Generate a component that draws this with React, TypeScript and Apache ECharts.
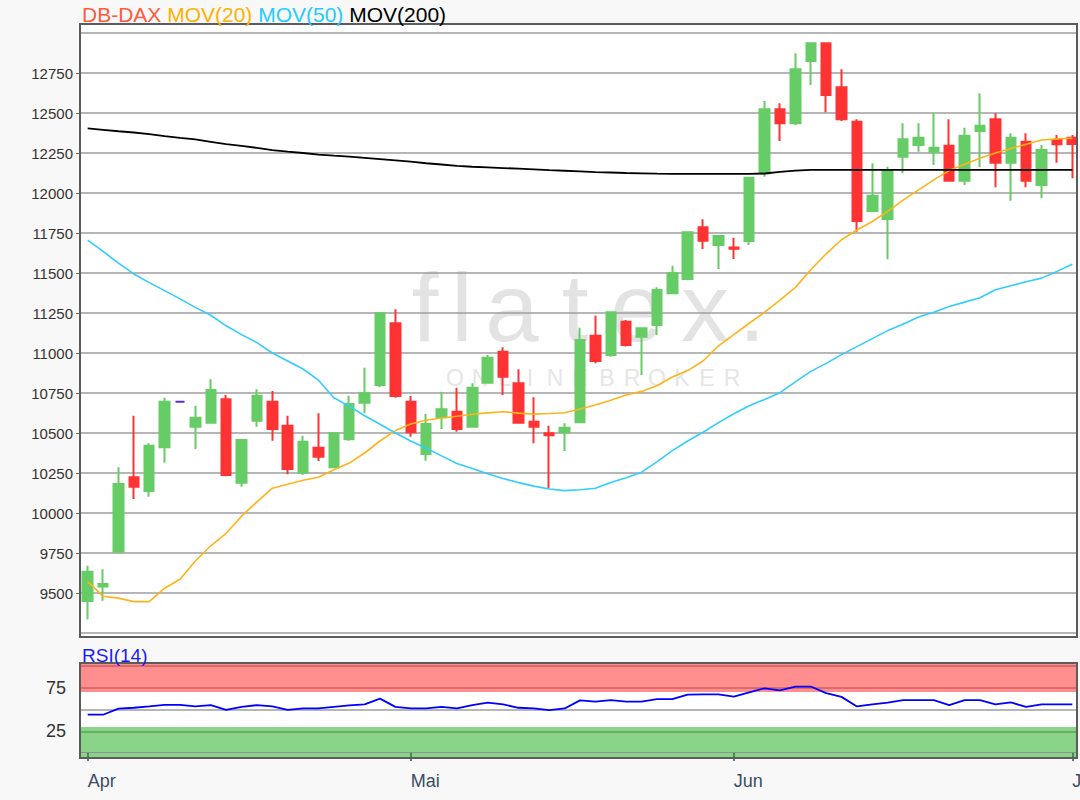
import React, { useEffect, useRef } from 'react';
import * as echarts from 'echarts';

const FONT = '"Liberation Sans", Arial, Helvetica, sans-serif';

// trading days shown (DB-DAX indication), Apr 2 – Jul 1 2020
const aprDays = [2, 3, 6, 7, 8, 9, 10, 13, 14, 15, 16, 17, 20, 21, 22, 23, 24, 27, 28, 29, 30];
const mayDays = [1, 4, 5, 6, 7, 8, 11, 12, 13, 14, 15, 18, 19, 20, 21, 22, 25, 26, 27, 28, 29];
const junDays = [1, 2, 3, 4, 5, 8, 9, 10, 11, 12, 15, 16, 17, 18, 19, 22, 23, 24, 25, 26, 29, 30];
const julDays = [1];
const monthNames: Record<string, string> = { '04': 'Apr', '05': 'Mai', '06': 'Jun', '07': 'Jul' };

const opens = [9450, 9540, 9758, 10223, 10138, 10411, 10696, 10539, 10564, 10711,
  10189, 10577, 10696, 10546, 10252, 10408, 10286, 10461, 10689, 10800,
  11186, 10696, 10369, 10598, 10633, 10539, 10814, 11008, 10811, 10571,
  10498, 10504, 10567, 11108, 10988, 11196, 11102, 11175, 11373, 11463,
  11786, 11675, 11660, 11700, 12123, 12523, 12436, 12825, 12936, 12661,
  12446, 11888, 11838, 12227, 12300, 12258, 12296, 12077, 12388, 12461,
  12189, 12321, 12050, 12331, 12346];
const closes = [9633, 9556, 10181, 10164, 10421, 10696, 10696, 10596, 10769, 10238,
  10456, 10733, 10525, 10275, 10446, 10352, 10498, 10681, 10748, 11248,
  10731, 10504, 10556, 10648, 10525, 10783, 10971, 10852, 10564, 10539,
  10486, 10533, 11081, 10950, 11254, 11050, 11154, 11394, 11498, 11754,
  11702, 11731, 11652, 12096, 12523, 12436, 12773, 12936, 12612, 12461,
  11825, 11983, 12138, 12336, 12346, 12283, 12077, 12358, 12421, 12189,
  12346, 12077, 12269, 12304, 12306];
const lows = [9336, 9452, 9758, 10088, 10102, 10314, 10696, 10400, 10564, 10230,
  10164, 10539, 10452, 10242, 10237, 10325, 10280, 10452, 10623, 10786,
  10721, 10477, 10327, 10525, 10508, 10539, 10814, 10737, 10560, 10436,
  10154, 10388, 10561, 10936, 10977, 11040, 10863, 11113, 11373, 11455,
  11650, 11525, 11587, 11675, 12102, 12325, 12425, 12675, 12504, 12450,
  11758, 11883, 11586, 12123, 12258, 12175, 12072, 12050, 12161, 12036,
  11952, 12036, 11967, 12189, 12092];
const highs = [9671, 9648, 10286, 10608, 10436, 10721, 10696, 10671, 10836, 10737,
  10460, 10773, 10762, 10608, 10483, 10623, 10502, 10733, 10908, 11252,
  11273, 10731, 10619, 10758, 10783, 10811, 10988, 11036, 10898, 10723,
  10546, 10561, 11158, 11233, 11258, 11206, 11160, 11411, 11546, 11760,
  11836, 11735, 11721, 12100, 12575, 12561, 12873, 12940, 12940, 12773,
  12461, 12186, 12164, 12436, 12436, 12502, 12461, 12408, 12623, 12498,
  12373, 12373, 12300, 12363, 12363];

const ma20 = [9571, 9480, 9468, 9446, 9446, 9530, 9586, 9700, 9795, 9873,
  9980, 10070, 10155, 10180, 10205, 10223, 10270, 10312, 10375, 10450,
  10515, 10556, 10580, 10594, 10605, 10617, 10626, 10633, 10624, 10618,
  10622, 10627, 10650, 10675, 10705, 10737, 10760, 10795, 10850, 10890,
  10950, 11045, 11115, 11186, 11255, 11331, 11410, 11520, 11620, 11708,
  11769, 11822, 11885, 11955, 12020, 12082, 12140, 12180, 12217, 12250,
  12278, 12305, 12331, 12338, 12342];
const ma50 = [11706, 11635, 11562, 11494, 11440, 11390, 11338, 11285, 11236, 11170,
  11115, 11065, 11000, 10950, 10900, 10830, 10720, 10668, 10608, 10555,
  10500, 10450, 10405, 10357, 10309, 10278, 10245, 10215, 10190, 10168,
  10150, 10140, 10145, 10155, 10190, 10220, 10255, 10320, 10390, 10450,
  10505, 10565, 10620, 10670, 10710, 10752, 10820, 10885, 10935, 10990,
  11040, 11090, 11140, 11180, 11225, 11255, 11290, 11318, 11345, 11395,
  11420, 11445, 11468, 11510, 11555];
const ma200 = [12404, 12395, 12386, 12378, 12368, 12356, 12345, 12335, 12320, 12305,
  12295, 12282, 12268, 12258, 12250, 12240, 12233, 12227, 12220, 12212,
  12204, 12196, 12186, 12178, 12170, 12164, 12160, 12156, 12152, 12148,
  12143, 12139, 12135, 12131, 12128, 12125, 12123, 12121, 12120, 12119,
  12119, 12119, 12119, 12120, 12122, 12132, 12140, 12144, 12144, 12144,
  12144, 12144, 12144, 12144, 12144, 12144, 12144, 12144, 12144, 12144,
  12144, 12144, 12144, 12144, 12144];
const rsi = [44, 44, 51, 52, 53.5, 55.4, 55.4, 53.5, 55, 49.5,
  53, 55, 53.5, 49.5, 51.2, 51.2, 53, 54.8, 55.8, 62.5,
  53, 51.2, 51.2, 53, 51.2, 55, 58, 55.8, 52, 51.2,
  49.3, 51.2, 60.5, 59, 60.8, 59, 59, 62, 62, 67,
  67.4, 67.4, 64.7, 69.8, 74.4, 72.1, 76.4, 76.4, 68.8, 64.5,
  53.5, 55.8, 58, 60.8, 60.8, 60.8, 55, 60.8, 60.8, 55.8,
  58.1, 53, 55.8, 55.8, 55.8];

const rsiOverbought = [70, 100];
const rsiOversold = [0, 30];
const dojiDate = '2020-04-10';

const pad = (d: number) => (d < 10 ? '0' + d : String(d));
const dates = [
  ...aprDays.map((d) => `2020-04-${pad(d)}`),
  ...mayDays.map((d) => `2020-05-${pad(d)}`),
  ...junDays.map((d) => `2020-06-${pad(d)}`),
  ...julDays.map((d) => `2020-07-${pad(d)}`),
];
const monthStart = new Set<number>();
dates.forEach((d, i) => {
  if (i === 0 || dates[i - 1].slice(5, 7) !== d.slice(5, 7)) monthStart.add(i);
});

const GREEN = '#66cc66';
const RED = '#ff3333';
const PURPLE = '#5a2fd0';
const BG = '#f8f8f8';
const FRAME = '#5c5c5c';
const GRIDLINE = '#9e9e9e';

export default function App() {
  const ref = useRef<HTMLDivElement>(null);
  useEffect(() => {
    if (!ref.current) return;
    const chart = echarts.init(ref.current, undefined, { renderer: 'svg' });

    const candleData = dates.map((d, i) => {
      const v = [opens[i], closes[i], lows[i], highs[i]];
      if (d === dojiDate) {
        return {
          value: v,
          itemStyle: { color: PURPLE, color0: PURPLE, borderColor: PURPLE, borderColor0: PURPLE, borderColorDoji: PURPLE },
        };
      }
      return v;
    });

    const wmLetters = ['f', 'l', 'a', 't', 'e', 'x', '.'];
    const wmX = [425, 462, 512, 575, 637, 705, 752];
    const obLetters = ['O', 'N', 'L', 'I', 'N', 'E', 'B', 'R', 'O', 'K', 'E', 'R'];
    const obX = [455, 480, 505, 530, 555, 580, 607, 632, 657, 682, 707, 732];

    const graphic: any[] = [
      { type: 'rect', z: -20, silent: true, shape: { x: 80, y: 24, width: 997, height: 613 }, style: { fill: '#ffffff' } },
      { type: 'rect', z: -20, silent: true, shape: { x: 80, y: 663, width: 997, height: 95 }, style: { fill: '#ffffff' } },
      ...wmLetters.map((t, i) => ({
        type: 'text', z: -10, silent: true, x: wmX[i], y: 307,
        style: { text: t, fill: '#e3e3e3', font: `96px ${FONT}`, align: 'center', verticalAlign: 'middle' },
      })),
      ...obLetters.map((t, i) => ({
        type: 'text', z: -10, silent: true, x: obX[i], y: 378,
        style: { text: t, fill: '#e6e6e6', font: `23px ${FONT}`, align: 'center', verticalAlign: 'middle' },
      })),
      { type: 'rect', z: 50, silent: true, shape: { x: 80, y: 663, width: 997, height: 3 }, style: { fill: 'rgba(255,30,30,0.5)' } },
      { type: 'rect', z: 50, silent: true, shape: { x: 80, y: 754, width: 997, height: 4 }, style: { fill: 'rgba(20,170,20,0.5)' } },
      { type: 'rect', z: 90, silent: true, shape: { x: 1078, y: 20, width: 4, height: 740 }, style: { fill: BG } },
      { type: 'rect', z: 100, silent: true, shape: { x: 80, y: 24, width: 997, height: 613 }, style: { fill: 'none', stroke: FRAME, lineWidth: 2 } },
      { type: 'rect', z: 100, silent: true, shape: { x: 80, y: 663, width: 997, height: 95 }, style: { fill: 'none', stroke: FRAME, lineWidth: 2 } },
      {
        type: 'text', z: 100, silent: true, x: 82, y: 14,
        style: {
          text: '{a|DB-DAX} {b|MOV(20)} {c|MOV(50)} {d|MOV(200)}',
          font: `21px ${FONT}`, fill: '#000', verticalAlign: 'middle',
          rich: {
            a: { fill: '#ff5a3c', fontSize: 21, fontFamily: FONT },
            b: { fill: '#ffb000', fontSize: 21, fontFamily: FONT },
            c: { fill: '#22ccff', fontSize: 21, fontFamily: FONT },
            d: { fill: '#000000', fontSize: 21, fontFamily: FONT },
          },
        },
      },
      {
        type: 'text', z: 100, silent: true, x: 82, y: 655,
        style: { text: 'RSI(14)', fill: '#1a1aff', font: `19px ${FONT}`, verticalAlign: 'middle' },
      },
    ];

    chart.setOption({
      animation: false,
      backgroundColor: BG,
      textStyle: { fontFamily: FONT },
      graphic,
      grid: [
        { left: 80, top: 33, width: 1000, height: 600, containLabel: false, outerBoundsMode: 'none' },
        { left: 80, top: 666, width: 1000, height: 87, containLabel: false, outerBoundsMode: 'none' },
      ],
      xAxis: [
        {
          type: 'category', gridIndex: 0, data: dates, boundaryGap: true,
          axisLine: { show: false }, axisTick: { show: false }, axisLabel: { show: false }, splitLine: { show: false },
        },
        {
          type: 'category', gridIndex: 1, data: dates, boundaryGap: true, offset: 5,
          axisLine: { show: false },
          axisTick: {
            show: true, alignWithLabel: true, length: 8,
            interval: (i: number) => monthStart.has(i),
            lineStyle: { color: '#3a4d62', width: 1.5 },
          },
          axisLabel: {
            interval: (i: number) => monthStart.has(i),
            formatter: (v: string) => monthNames[v.slice(5, 7)] || '',
            align: 'left', margin: 14, fontSize: 18, color: '#3a4d62', fontFamily: FONT,
          },
          splitLine: { show: false },
        },
      ],
      yAxis: [
        {
          type: 'value', gridIndex: 0, min: 9250, max: 13000, interval: 250,
          axisLine: { show: false },
          axisTick: { show: true, length: 4, lineStyle: { color: '#666' } },
          axisLabel: {
            formatter: (v: number) => String(v),
            fontSize: 15, color: '#333', margin: 7, showMinLabel: false, showMaxLabel: false, fontFamily: FONT,
          },
          splitLine: { lineStyle: { color: GRIDLINE, width: 1.5 } },
        },
        {
          type: 'value', gridIndex: 1, min: 0, max: 100, interval: 25,
          axisLine: { show: false },
          axisTick: { show: false },
          axisLabel: {
            formatter: (v: number) => (v === 25 || v === 75 ? String(v) : ''),
            fontSize: 18, color: '#333', margin: 14, fontFamily: FONT,
          },
          splitLine: { lineStyle: { color: GRIDLINE, width: 1.5 } },
        },
      ],
      series: [
        {
          type: 'candlestick', name: 'DB-DAX', xAxisIndex: 0, yAxisIndex: 0,
          data: candleData, barWidth: 10,
          itemStyle: { color: GREEN, color0: RED, borderColor: GREEN, borderColor0: RED, borderWidth: 2 },
        },
        {
          type: 'line', name: 'MOV(20)', xAxisIndex: 0, yAxisIndex: 0, data: ma20,
          symbol: 'none', lineStyle: { color: '#ffb31a', width: 1.6 },
        },
        {
          type: 'line', name: 'MOV(50)', xAxisIndex: 0, yAxisIndex: 0, data: ma50,
          symbol: 'none', lineStyle: { color: '#33ccff', width: 1.6 },
        },
        {
          type: 'line', name: 'MOV(200)', xAxisIndex: 0, yAxisIndex: 0, data: ma200,
          symbol: 'none', lineStyle: { color: '#000000', width: 1.8 },
        },
        {
          type: 'line', name: 'RSI(14)', xAxisIndex: 1, yAxisIndex: 1, data: rsi,
          symbol: 'none', lineStyle: { color: '#0000ff', width: 1.8 },
          markArea: {
            silent: true,
            data: [
              [{ yAxis: rsiOverbought[0], itemStyle: { color: 'rgba(255,30,30,0.5)' } }, { yAxis: rsiOverbought[1] }],
              [{ yAxis: rsiOversold[0], itemStyle: { color: 'rgba(20,170,20,0.5)' } }, { yAxis: rsiOversold[1] }],
            ],
          },
        },
      ],
    });
    return () => chart.dispose();
  }, []);

  return <div ref={ref} style={{ position: 'absolute', left: 0, top: 0, width: 1080, height: 800 }} />;
}
